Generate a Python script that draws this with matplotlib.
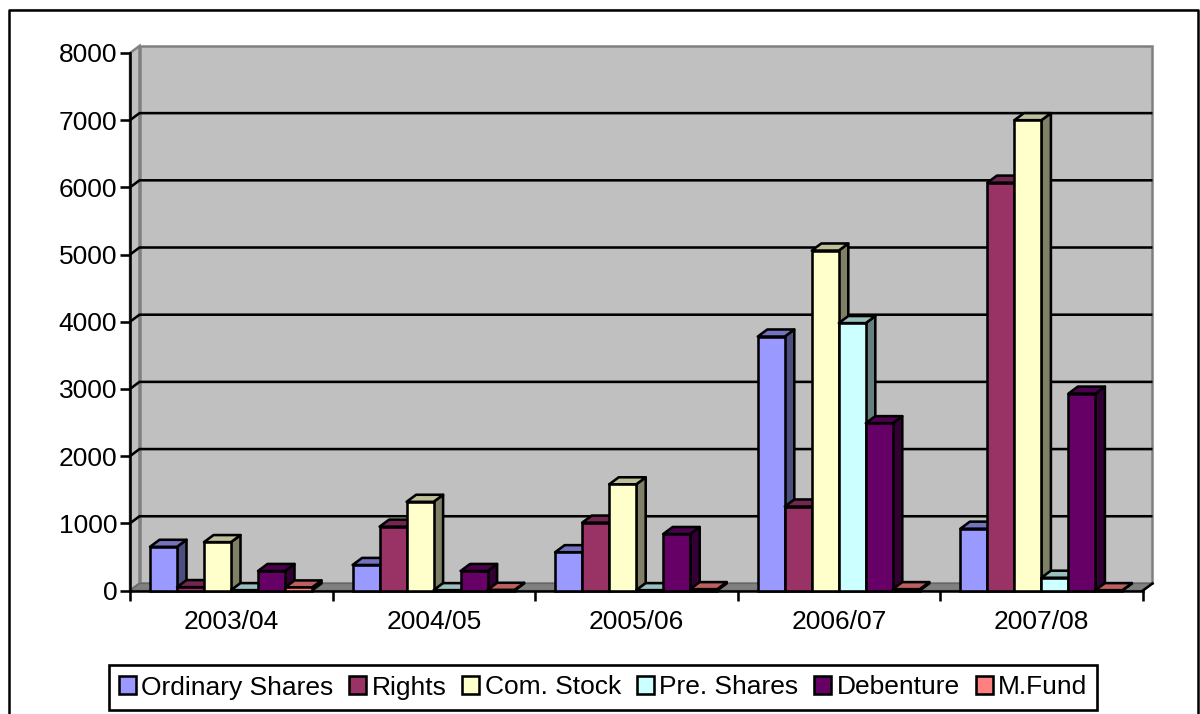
import matplotlib
matplotlib.use("Agg")
import matplotlib.pyplot as plt
from matplotlib.lines import Line2D
from matplotlib.patches import Patch, Polygon

plt.rcParams['font.family'] = ['Liberation Sans', 'DejaVu Sans']

years = ['2003/04', '2004/05', '2005/06', '2006/07', '2007/08']
ordinary = [650, 380, 570, 3780, 920]
rights = [50, 950, 1010, 1250, 6070]
com_stock = [720, 1320, 1580, 5060, 7000]
pre_shares = [5, 5, 5, 3980, 190]
debenture = [290, 290, 840, 2490, 2930]
m_fund = [45, 10, 20, 20, 5]

series = [ordinary, rights, com_stock, pre_shares, debenture, m_fund]
names = ['Ordinary Shares', 'Rights', 'Com. Stock', 'Pre. Shares', 'Debenture', 'M.Fund']
front = ['#9999FF', '#993366', '#FFFFCC', '#CCFFFF', '#660066', '#FF8080']
top = ['#7373BF', '#732650', '#BFBF99', '#99BFBF', '#4D004D', '#BF6060']
side = ['#4D4D80', '#4D1A33', '#808066', '#668080', '#330033', '#804040']

W, H = 1200, 714
fig = plt.figure(figsize=(12, 7.14), dpi=100)
# axes box is the front edge of the 3d plot, in pixels
ax = fig.add_axes([130 / W, 1 - 590.5 / H, 1013 / W, 537.5 / H])
ax.set_xlim(0, 5)
ax.set_ylim(0, 8000)

# how far the back wall sits from the front, in data units
dx = 9.5 / 202.6
dy = 105
bar_w = 27 / 202.6
start = 20 / 202.6
lw = 1.85

# walls and floor
ax.add_patch(Polygon([(dx, dy), (5 + dx, dy), (5 + dx, 8000 + dy), (dx, 8000 + dy)], fc='#C0C0C0',
                     ec='#808080', lw=1.8, clip_on=False, zorder=1))
ax.add_patch(Polygon([(0, 0), (dx, dy), (dx, 8000 + dy), (0, 8000)], fc='#C0C0C0',
                     ec='#808080', lw=1.8, clip_on=False, zorder=1))
ax.add_patch(Polygon([(0, 0), (5, 0), (5 + dx, dy), (dx, dy)], fc='#808080',
                     ec='#666666', lw=1, clip_on=False, zorder=1))

for v in range(1000, 8000, 1000):
    ax.plot([0, dx, 5 + dx], [v, v + dy, v + dy], color='black', lw=lw, clip_on=False, zorder=2,
            solid_capstyle='butt')
ax.plot([5, 5 + dx], [0, dy], color='black', lw=lw, clip_on=False, zorder=2)

# bars, left to right so the next one covers the side of the last
z = 3
for i in range(len(years)):
    for j in range(len(series)):
        x0 = i + start + j * bar_w
        x1 = x0 + bar_w
        v = series[j][i]
        ax.add_patch(Polygon([(x1, 0), (x1 + dx, dy), (x1 + dx, v + dy), (x1, v)], fc=side[j],
                             ec='black', lw=lw, joinstyle='round', clip_on=False, zorder=z))
        ax.add_patch(Polygon([(x0, v), (x1, v), (x1 + dx, v + dy), (x0 + dx, v + dy)], fc=top[j],
                             ec='black', lw=lw, joinstyle='round', clip_on=False, zorder=z))
        ax.bar(x0, v, width=bar_w, align='edge', color=front[j], edgecolor='black', lw=lw,
               clip_on=False, zorder=z)
        z += 1

for s in ['top', 'right']:
    ax.spines[s].set_visible(False)
for s in ['left', 'bottom']:
    ax.spines[s].set_linewidth(lw)
    ax.spines[s].set_zorder(2.5)
ax.patch.set_visible(False)

ax.set_yticks(range(0, 8001, 1000))
ax.tick_params(axis='y', length=7.2, width=lw, labelsize=19, pad=2)
ax.set_xticks(range(6))
ax.set_xticklabels([])
ax.set_xticks([i + 0.5 for i in range(5)], minor=True)
ax.set_xticklabels(years, minor=True)
ax.tick_params(axis='x', which='major', length=7.2, width=lw)
ax.tick_params(axis='x', which='minor', length=0, labelsize=19, pad=14)

handles = [Patch(fc=front[j], ec='black', lw=lw) for j in range(len(names))]
leg = fig.legend(handles, names, loc='center', bbox_to_anchor=(603 / W, 1 - 687.5 / H), ncol=6,
                 fontsize=19, fancybox=False, framealpha=1, edgecolor='black',
                 handlelength=0.65, handleheight=0.65, handletextpad=0.2, columnspacing=0.6,
                 borderpad=0.38, borderaxespad=0)
leg.get_frame().set_linewidth(1.9)

# outer frame, runs off the bottom of the image
fig.add_artist(Line2D([8.5 / W, 1198 / W], [1 - 8.5 / H, 1 - 8.5 / H], color='#C8C8C8', lw=0.8))
fig.add_artist(Line2D([8.5 / W, 8.5 / W, 1198 / W, 1198 / W], [0, 1 - 10 / H, 1 - 10 / H, 0],
                      color='black', lw=1.8))

fig.savefig('out.png', dpi=100)
